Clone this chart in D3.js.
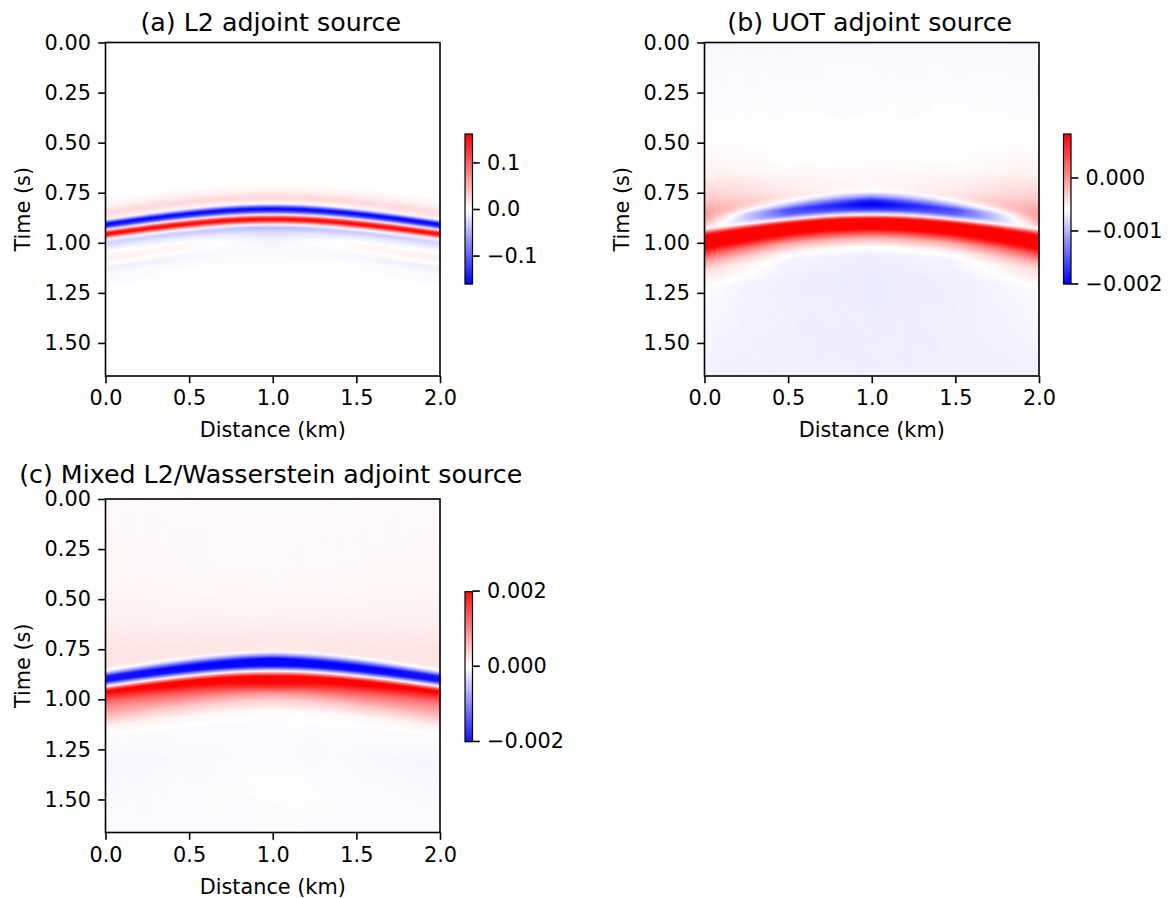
<!DOCTYPE html>
<html>
<head>
<meta charset="utf-8">
<script src="https://cdn.jsdelivr.net/npm/d3@7"></script>
<style>
  body { margin: 0; background: #fff; }
  svg text { font-family: "DejaVu Sans", sans-serif; fill: #000; }
</style>
</head>
<body>
<svg id="fig" width="1171" height="898"></svg>
<script>
// ---- data ----
const timeMax = 1.665;                       // s, bottom of each panel
const xTicks = [0, 0.5, 1.0, 1.5, 2.0];
const yTicks = [0, 0.25, 0.5, 0.75, 1.0, 1.25, 1.5];

// time of the blue/red zero crossing along distance (0..2 km, equal steps)
const zeroLineTime = [0.935, 0.906, 0.882, 0.863, 0.857, 0.863, 0.882, 0.906, 0.935];

// traces (value vs. time offset from the zero line) at |x-1| = 0, 0.5, 1 km
const l2Offsets = [-0.9, -0.16, -0.12, -0.085, -0.055, -0.045, -0.03, -0.015, 0, 0.012, 0.025, 0.038, 0.048, 0.065, 0.09, 0.12, 0.145, 0.168, 0.19, 0.22, 0.3, 0.85];
const l2Center  = [0, 0, 0.008, 0.026, 0.004, -0.07, -0.17, -0.12, 0, 0.12, 0.17, 0.09, 0.0, -0.045, -0.022, -0.01, -0.006, -0.004, -0.003, -0.002, 0, 0];
const l2Mid     = [0, 0, 0.01, 0.025, 0.006, -0.06, -0.17, -0.12, 0, 0.12, 0.17, 0.08, 0.0, -0.035, -0.012, 0.004, 0.004, -0.004, -0.006, -0.002, 0, 0];
const l2Edge    = [0, 0, 0.006, 0.024, 0.01, -0.04, -0.17, -0.13, 0, 0.13, 0.17, 0.06, -0.01, -0.028, -0.012, 0.004, 0.012, 0.002, -0.012, -0.004, 0, 0];
const l2Range   = [-0.161, 0.161];
const l2CbTicks = [-0.1, 0, 0.1];

const uotOffsets = [-0.95, -0.46, -0.27, -0.15, -0.115, -0.09, -0.07, -0.05, -0.025, -0.01, 0, 0.012, 0.03, 0.06, 0.09, 0.12, 0.16, 0.2, 0.3, 0.8];
const uotCenter  = [-0.00064, -0.0006, -0.00058, -0.00054, -0.0006, -0.0012, -0.0019, -0.0021, -0.0017, -0.001, -0.0006, 0.0004, 0.0012, 0.0011, 0.0004, -0.0002, -0.00058, -0.00068, -0.0007, -0.00068];
const uotMid     = [-0.00064, -0.0006, -0.00058, -0.0005, -0.00045, -0.0006, -0.001, -0.0016, -0.0015, -0.001, -0.0006, 0.0004, 0.0012, 0.0011, 0.0005, -0.0001, -0.0005, -0.00065, -0.00068, -0.00068];
const uotEdge    = [-0.00064, -0.0006, -0.00052, -0.0003, -0.00016, -0.00008, -0.00006, -0.0001, -0.0003, -0.0005, -0.0004, 0.0002, 0.0009, 0.0012, 0.0009, 0.0004, -0.0001, -0.0004, -0.00062, -0.00068];
const uotRange   = [-0.00201, 0.00082];
const uotCbTicks = [-0.002, -0.001, 0.0];

const mixOffsets = [-0.86, -0.5, -0.3, -0.15, -0.1, -0.08, -0.065, -0.05, -0.025, -0.008, 0, 0.01, 0.025, 0.045, 0.08, 0.11, 0.15, 0.2, 0.26, 0.4, 0.6, 0.8];
const mixCenter  = [0.000003, 0.00002, 0.00006, 0.00016, 0.00013, -0.0008, -0.0019, -0.0023, -0.0019, -0.0006, 0, 0.0009, 0.002, 0.0022, 0.0016, 0.0008, 0.0003, 0, -0.00005, -0.00006, -0.00003, -0.00005];
const mixMid     = [0.00001, 0.00003, 0.00007, 0.00018, 0.00017, -0.0004, -0.0013, -0.0021, -0.0019, -0.0006, 0, 0.001, 0.0021, 0.002, 0.0013, 0.0009, 0.0004, 0.00006, -0.00005, -0.00008, -0.00005, -0.00006];
const mixEdge    = [0.00002, 0.00005, 0.0001, 0.0002, 0.00018, 0.00006, -0.0007, -0.0018, -0.0019, -0.0006, 0, 0.001, 0.0021, 0.0017, 0.0011, 0.0008, 0.0005, 0.00008, -0.00006, -0.0001, -0.00007, -0.00006];
const mixRange   = [-0.00202, 0.00197];
const mixCbTicks = [-0.002, 0, 0.002];

// ---- layout ----
const W = 334.5, H = 333.5;
const FS = 20.8, TFS = 25.3;
const TICK = 7.3, PAD = 7.3, LW = 1.6;

const panels = [
  { title: "(a) L2 adjoint source", left: 105.5, top: 42.5, titleGap: 12,
    offsets: l2Offsets, traces: [l2Center, l2Mid, l2Edge], range: l2Range,
    cbTicks: l2CbTicks, cbFmt: ".1f", cbLeft: 465, cbTop: 134, cbH: 150 },
  { title: "(b) UOT adjoint source", left: 704.5, top: 42.5, titleGap: 12,
    offsets: uotOffsets, traces: [uotCenter, uotMid, uotEdge], range: uotRange,
    cbTicks: uotCbTicks, cbFmt: ".3f", cbLeft: 1063.5, cbTop: 134, cbH: 150 },
  { title: "(c) Mixed L2/Wasserstein adjoint source", left: 105.5, top: 499, titleGap: 16,
    offsets: mixOffsets, traces: [mixCenter, mixMid, mixEdge], range: mixRange,
    cbTicks: mixCbTicks, cbFmt: ".3f", cbLeft: 465, cbTop: 591.7, cbH: 150 }
];

const svg = d3.select("#fig");
const zeroCurve = d3.interpolateBasis(zeroLineTime);
const zero = d => zeroCurve(d / 2);

function styleAxis(g) {
  g.select(".domain").remove();
  g.selectAll(".tick line").attr("stroke", "#000").attr("stroke-width", LW);
  g.selectAll(".tick text").attr("font-size", FS).attr("font-family", "DejaVu Sans").attr("fill", "#000");
}

function drawPanel(p) {
  const x = d3.scaleLinear().domain([0, 2]).range([p.left, p.left + W]);
  const y = d3.scaleLinear().domain([0, timeMax]).range([p.top, p.top + H]);
  const traces = p.traces.map(v => d3.scaleLinear().domain(p.offsets).range(v).clamp(true));
  const blend = (dist, off) => {
    if (dist <= 0.5) { const w = dist / 0.5; return traces[0](off) * (1 - w) + traces[1](off) * w; }
    const w = (dist - 0.5) / 0.5; return traces[1](off) * (1 - w) + traces[2](off) * w;
  };
  const [vmin, vmax] = p.range;
  const color = d3.scaleLinear()
    .domain([vmin, (vmin + vmax) / 2, vmax])
    .range(["#0000ff", "#ffffff", "#ff0000"])
    .clamp(true);

  // heat map cells, painted to a canvas then placed in the svg
  const nx = 334, nt = 334;
  const canvas = document.createElement("canvas");
  canvas.width = Math.ceil(W); canvas.height = Math.ceil(H);
  const ctx = canvas.getContext("2d");
  for (let i = 0; i < nx; i++) {
    const d0 = 2 * i / nx, d1 = 2 * (i + 1) / nx, d = (d0 + d1) / 2;
    const tz = zero(d);
    const dist = Math.min(1, Math.abs(d - 1));
    const px0 = x(d0) - p.left, px1 = x(d1) - p.left;
    for (let j = 0; j < nt; j++) {
      const t0 = timeMax * j / nt, t1 = timeMax * (j + 1) / nt;
      ctx.fillStyle = color(blend(dist, (t0 + t1) / 2 - tz));
      const py0 = y(t0) - p.top, py1 = y(t1) - p.top;
      ctx.fillRect(px0, py0, px1 - px0 + 0.6, py1 - py0 + 0.6);
    }
  }
  svg.append("image")
    .attr("x", p.left).attr("y", p.top)
    .attr("width", canvas.width).attr("height", canvas.height)
    .attr("preserveAspectRatio", "none")
    .attr("href", canvas.toDataURL());

  // frame
  svg.append("rect")
    .attr("x", p.left).attr("y", p.top).attr("width", W).attr("height", H)
    .attr("fill", "none").attr("stroke", "#000").attr("stroke-width", LW);

  // axes
  svg.append("g").attr("transform", `translate(0,${p.top + H})`)
    .call(d3.axisBottom(x).tickValues(xTicks).tickFormat(d3.format(".1f"))
      .tickSize(TICK).tickPadding(PAD).tickSizeOuter(0))
    .call(styleAxis);
  svg.append("g").attr("transform", `translate(${p.left},0)`)
    .call(d3.axisLeft(y).tickValues(yTicks).tickFormat(d3.format(".2f"))
      .tickSize(TICK).tickPadding(PAD).tickSizeOuter(0))
    .call(styleAxis);

  // labels
  svg.append("text").attr("x", p.left + W / 2 - 2).attr("y", p.top - p.titleGap)
    .attr("text-anchor", "middle").attr("font-size", TFS).text(p.title);
  svg.append("text").attr("x", p.left + W / 2).attr("y", p.top + H + 61)
    .attr("text-anchor", "middle").attr("font-size", FS).text("Distance (km)");
  svg.append("text")
    .attr("transform", `translate(${p.left - 75.5},${p.top + H / 2}) rotate(-90)`)
    .attr("text-anchor", "middle").attr("font-size", FS).text("Time (s)");

  // colour bar
  const cbW = 7.5;
  const cb = d3.scaleLinear().domain([vmin, vmax]).range([p.cbTop + p.cbH, p.cbTop]);
  const steps = d3.range(0, p.cbH);
  svg.append("g").selectAll("rect").data(steps).join("rect")
    .attr("x", p.cbLeft).attr("width", cbW)
    .attr("y", k => p.cbTop + k).attr("height", 1.2)
    .attr("fill", k => color(cb.invert(p.cbTop + k + 0.5)));
  svg.append("rect")
    .attr("x", p.cbLeft).attr("y", p.cbTop).attr("width", cbW).attr("height", p.cbH)
    .attr("fill", "none").attr("stroke", "#000").attr("stroke-width", 1.2);
  svg.append("g").attr("transform", `translate(${p.cbLeft + cbW},0)`)
    .call(d3.axisRight(cb).tickValues(p.cbTicks).tickFormat(d3.format(p.cbFmt))
      .tickSize(TICK).tickPadding(PAD).tickSizeOuter(0))
    .call(styleAxis);
}

panels.forEach(drawPanel);
</script>
</body>
</html>
